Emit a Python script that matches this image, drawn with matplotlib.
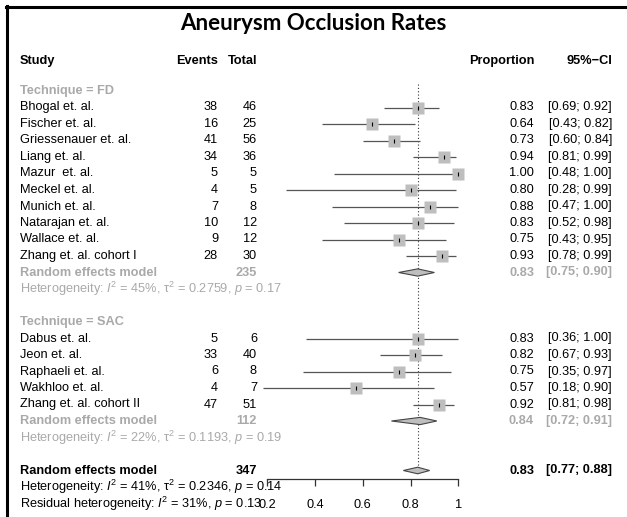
import matplotlib
matplotlib.use("Agg")
import matplotlib.pyplot as plt
from matplotlib.lines import Line2D

plt.rcParams['font.family'] = ['Liberation Sans', 'DejaVu Sans']
plt.rcParams['mathtext.fontset'] = 'custom'
plt.rcParams['mathtext.rm'] = 'Liberation Sans'
plt.rcParams['mathtext.it'] = 'Liberation Sans:italic'
plt.rcParams['mathtext.bf'] = 'Liberation Sans:bold'

# data
fd_studies = ["Bhogal et. al.", "Fischer et. al.", "Griessenauer et. al.", "Liang et. al.",
              "Mazur  et. al.", "Meckel et. al.", "Munich et. al.", "Natarajan et. al.",
              "Wallace et. al.", "Zhang et. al. cohort I"]
fd_events = [38, 16, 41, 34, 5, 4, 7, 10, 9, 28]
fd_total = [46, 25, 56, 36, 5, 5, 8, 12, 12, 30]
fd_prop = [0.83, 0.64, 0.73, 0.94, 1.00, 0.80, 0.88, 0.83, 0.75, 0.93]
fd_lo = [0.69, 0.43, 0.60, 0.81, 0.48, 0.28, 0.47, 0.52, 0.43, 0.78]
fd_hi = [0.92, 0.82, 0.84, 0.99, 1.00, 0.99, 1.00, 0.98, 0.95, 0.99]
fd_pooled = [0.83, 0.75, 0.90]
fd_n = 235
fd_het = "Heterogeneity: $I^2$ = 45%, τ$^2$ = 0.2759, $p$ = 0.17"

sac_studies = ["Dabus et. al.", "Jeon et. al.", "Raphaeli et. al.", "Wakhloo et. al.",
               "Zhang et. al. cohort II"]
sac_events = [5, 33, 6, 4, 47]
sac_total = [6, 40, 8, 7, 51]
sac_prop = [0.83, 0.82, 0.75, 0.57, 0.92]
sac_lo = [0.36, 0.67, 0.35, 0.18, 0.81]
sac_hi = [1.00, 0.93, 0.97, 0.90, 0.98]
sac_pooled = [0.84, 0.72, 0.91]
sac_n = 112
sac_het = "Heterogeneity: $I^2$ = 22%, τ$^2$ = 0.1193, $p$ = 0.19"

all_pooled = [0.83, 0.77, 0.88]
all_n = 347
all_het = "Heterogeneity: $I^2$ = 41%, τ$^2$ = 0.2346, $p$ = 0.14"
resid_het = "Residual heterogeneity: $I^2$ = 31%, $p$ = 0.13"

xticks = [0.2, 0.4, 0.6, 0.8, 1.0]
xticklabels = ["0.2", "0.4", "0.6", "0.8", "1"]

# layout (pixels)
W, H = 627, 517
row0, step = 91, 16.5
def row(ypix):
    return (ypix - row0) / step

grey = "#A9A9A9"
fs = 9.2

fig = plt.figure(figsize=(W / 100, H / 100), dpi=100)
fig.patch.set_facecolor("white")

# text layer
tx = fig.add_axes([0, 0, 1, 1])
tx.set_xlim(0, W)
tx.set_ylim(row(H), row(0))
tx.axis("off")

# forest layer
ax_l, ax_r, ax_b = 267.3, 458.3, 479.3
ax = fig.add_axes([ax_l / W, (H - ax_b) / H, (ax_r - ax_l) / W, ax_b / H])
ax.set_xlim(0.2, 1.0)
ax.set_ylim(row(ax_b), row(0))
ax.patch.set_alpha(0)
for s in ["top", "right", "left"]:
    ax.spines[s].set_visible(False)
ax.spines["bottom"].set_linewidth(0.9)
ax.spines["bottom"].set_color("#333333")
ax.set_yticks([])
ax.set_xticks(xticks)
ax.set_xticklabels(xticklabels)
ax.tick_params(axis="x", direction="out", length=5, width=0.9, color="#333333",
               labelsize=fs, pad=9.5)

fig.text(0.5, 1 - 24 / H, "Aneurysm Occlusion Rates", ha="center", va="center",
         fontsize=16, fontweight="bold", family="Lato")

X_STUDY, X_EV, X_TOT, X_PROP, X_CI = 20, 218, 257, 534, 612

def txt(x, r, s, ha="left", color="black", bold=False):
    tx.text(x, r, s, ha=ha, va="center", fontsize=fs, color=color,
            fontweight="bold" if bold else "normal")

hr = row(61)
txt(X_STUDY, hr, "Study", bold=True)
txt(X_EV, hr, "Events", ha="right", bold=True)
txt(X_TOT, hr, "Total", ha="right", bold=True)
txt(X_PROP, hr, "Proportion", ha="right", bold=True)
txt(X_CI, hr, "95%−CI", ha="right", bold=True)

def diamond(r, est, lo, hi, half=0.22):
    ax.fill([lo, est, hi, est], [r, r - half, r, r + half], facecolor="#BEBEBE",
            edgecolor="#444444", linewidth=0.8, zorder=4)

def group(start, label, names, ev, tot, p, lo, hi, pooled, n, het):
    txt(X_STUDY, start, label, color=grey, bold=True)
    for i in range(len(names)):
        r = start + 1 + i
        txt(X_STUDY, r, names[i])
        txt(X_EV, r, str(ev[i]), ha="right")
        txt(X_TOT, r, str(tot[i]), ha="right")
        txt(X_PROP, r, "%.2f" % p[i], ha="right")
        txt(X_CI, r, "[%.2f; %.2f]" % (lo[i], hi[i]), ha="right")
        ax.plot([lo[i], hi[i]], [r, r], color="#555555", lw=0.9, zorder=2,
                clip_on=False, solid_capstyle="butt")
        ax.plot(p[i], r, marker="s", markersize=8, color="#BEBEBE", mec="none",
                zorder=3, clip_on=False)
        ax.plot(p[i], r, marker="|", markersize=3, color="black", mew=0.8,
                zorder=3.5, clip_on=False)
    r = start + 1 + len(names)
    txt(X_STUDY, r, "Random effects model", color=grey, bold=True)
    txt(X_TOT, r, str(n), ha="right", color=grey, bold=True)
    txt(X_PROP, r, "%.2f" % pooled[0], ha="right", color=grey, bold=True)
    txt(X_CI, r, "[%.2f; %.2f]" % (pooled[1], pooled[2]), ha="right", color=grey, bold=True)
    diamond(r, *pooled)
    txt(X_STUDY, r + 1, het, color=grey)

group(0, "Technique = FD", fd_studies, fd_events, fd_total, fd_prop, fd_lo, fd_hi,
      fd_pooled, fd_n, fd_het)
group(14, "Technique = SAC", sac_studies, sac_events, sac_total, sac_prop, sac_lo, sac_hi,
      sac_pooled, sac_n, sac_het)

r = 23
txt(X_STUDY, r, "Random effects model", bold=True)
txt(X_TOT, r, str(all_n), ha="right", bold=True)
txt(X_PROP, r, "%.2f" % all_pooled[0], ha="right", bold=True)
txt(X_CI, r, "[%.2f; %.2f]" % (all_pooled[1], all_pooled[2]), ha="right", bold=True)
diamond(r, *all_pooled, half=0.2)
txt(X_STUDY, r + 1, all_het)
txt(X_STUDY, r + 2, resid_het)

# reference line at pooled estimate
ax.plot([all_pooled[0]] * 2, [-0.4, 23.2], color="#333333", lw=0.8,
        linestyle=(0, (1, 2)), zorder=1)

# frame
fig.add_artist(Line2D([7 / W, 7 / W], [0, 1 - 5.5 / H], color="black", lw=2.2))
fig.add_artist(Line2D([5.5 / W, 1], [1 - 7 / H, 1 - 7 / H], color="black", lw=2.2))

fig.savefig("out.png", dpi=100)
